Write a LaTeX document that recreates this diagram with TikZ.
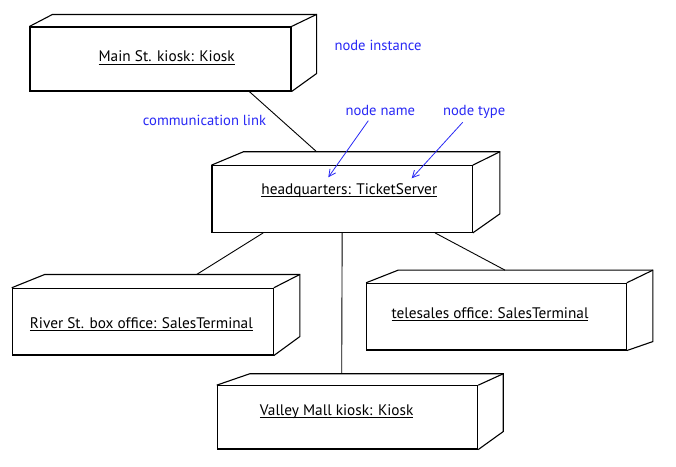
\documentclass[tikz,border=0pt]{standalone}
\usepackage{fontspec}
\setmainfont{PT Sans}
\usetikzlibrary{arrows.meta,calc}
\definecolor{annblue}{RGB}{40,40,245}
\newcommand\ulx[1]{\setbox0\hbox{#1}\rlap{\rule[-2.8pt]{\wd0}{0.85pt}}\box0}
\newcommand\backfaces[5]{%
  \draw[boxline] (#1.north west) -- ++(#2,-#3) -- ($(#1.north east)+(#4,-#3)$) -- ($(#1.south east)+(#4,-#5)$) -- (#1.south east);
  \draw[boxline] (#1.north east) -- ++(#4,-#3);}
\tikzset{
  boxline/.style={line width=1.1pt,line join=miter},
  front/.style={draw,line width=1.1pt,inner sep=0pt,fill=white},
  lbl/.style={anchor=base,inner sep=0pt,font=\fontsize{15.3}{18}\selectfont},
  ann/.style={anchor=base,inner sep=0pt,text=annblue,font=\fontsize{14.6}{17}\selectfont},
  link/.style={line width=0.9pt},
  annarrow/.style={annblue,line width=0.8pt,-{Straight Barb[length=7pt,width=7pt]}}
}
\begin{document}
\begin{tikzpicture}[x=1pt,y=-1pt]
\useasboundingbox (0,0) rectangle (676,466);
% front faces
\node[front,minimum width=261pt,minimum height=64pt] (main) at (160.5,59) {};
\node[front,minimum width=260.3pt,minimum height=66.6pt] (hq) at (342.15,199) {};
\node[front,minimum width=261pt,minimum height=66.7pt] (river) at (142.8,321.65) {};
\node[front,minimum width=259.6pt,minimum height=66.7pt] (tele) at (496.5,316.65) {};
\node[front,minimum width=260.4pt,minimum height=63.3pt] (valley) at (347.5,417.35) {};
% back faces
\backfaces{main}{23}{12}{25}{18}
\backfaces{hq}{32}{13.4}{27}{19}
\backfaces{river}{33}{13.3}{26}{19}
\backfaces{tele}{32}{12.6}{26}{9}
\backfaces{valley}{33}{11.4}{25}{18}
% labels
\node[lbl] (mainlbl) at (166.7,61.7) {\ulx{Main St. kiosk: Kiosk}};
\node[lbl] (hqlbl) at (349.3,194.3) {\ulx{headquarters: TicketServer}};
\node[lbl] (riverlbl) at (141.3,328.3) {\ulx{River St. box office: SalesTerminal}};
\node[lbl] (telelbl) at (490,318.3) {\ulx{telesales office: SalesTerminal}};
\node[lbl] (valleylbl) at (336.7,415) {\ulx{Valley Mall kiosk: Kiosk}};
% communication links
\draw[link] ([xshift=88.8pt]main.south) -- ([xshift=-25.5pt,yshift=13.4pt]hq.north);
\draw[link] ([xshift=-78.9pt]hq.south) -- ([xshift=53.9pt,yshift=13.3pt]river.north);
\draw[link] (hq.south) -- ([xshift=-5.8pt,yshift=11.4pt]valley.north);
\draw[link] ([xshift=92.85pt]hq.south) -- ([xshift=8.5pt,yshift=12.6pt]tele.north);
% annotations
\node[ann] (ninst) at (378,50) {node instance};
\node[ann] (clink) at (204.5,125.3) {communication link};
\node[ann] (nname) at (380.3,115) {node name};
\node[ann] (ntype) at (474.2,115) {node type};
\coordinate (tipname) at (328.3,177.3);
\coordinate (tiptype) at (411.7,178.3);
\draw[annarrow] ([xshift=-12pt,yshift=-5.7pt]nname.base) -- (tipname);
\draw[annarrow] ([xshift=-11.5pt,yshift=-7.3pt]ntype.base) -- (tiptype);
\end{tikzpicture}
\end{document}
